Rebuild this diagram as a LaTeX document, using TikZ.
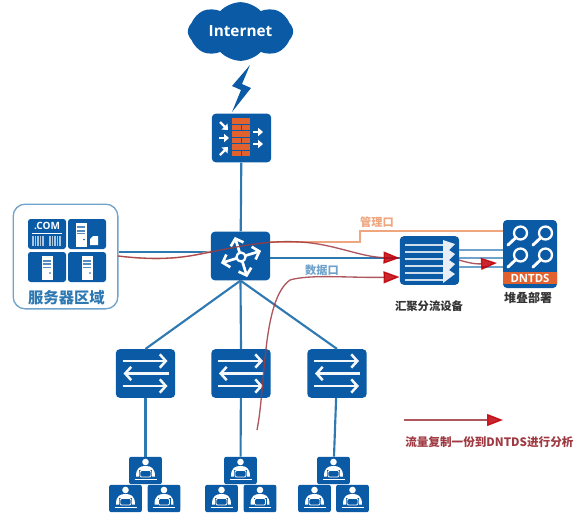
\documentclass[tikz,border=0pt]{standalone}
\usepackage{fontspec}
\setmainfont{Open Sans}
\newfontfamily\cjk{Noto Sans CJK SC}
\usepackage{tikz}
\usetikzlibrary{arrows.meta,positioning,shapes.symbols}

\definecolor{netblue}{HTML}{0B5AA5}
\definecolor{linkblue}{HTML}{2F79B3}
\definecolor{paleblue}{HTML}{6FA3CB}
\definecolor{brick}{HTML}{E2622F}
\definecolor{mgmtorange}{HTML}{EFA67E}
\definecolor{flowred}{HTML}{A03A42}
\definecolor{headred}{HTML}{C00008}

\tikzset{
  devbox/.style={fill=netblue,rounded corners=3pt,minimum width=44.5pt,minimum height=36.5pt,inner sep=0pt},
  tilebox/.style={fill=netblue,rounded corners=2pt,minimum width=28.5pt,minimum height=22.5pt,inner sep=0pt},
  pcbox/.style={fill=netblue,rounded corners=1.5pt,minimum width=24.5pt,minimum height=20.5pt,inner sep=0pt},
  netlink/.style={draw=linkblue,line width=1.6pt},
  palelink/.style={draw=paleblue,line width=1.3pt},
  mgmtlink/.style={draw=mgmtorange,line width=1.4pt},
  flowline/.style={draw=flowred,line width=1pt,opacity=0.85,-{Triangle[length=12pt,width=9pt,color=headred]}},
  whitearrow/.style={draw=white!95!netblue,line width=1.9pt,-{Straight Barb[length=4.5pt,width=10pt,line width=1.9pt]}},
  fatarrow/.style={draw=white,line width=1.7pt,-{Triangle[length=3.6pt,width=6pt]}},
  cjklabel/.style={font=\cjk\bfseries\fontsize{#1}{#1}\selectfont,inner sep=0pt},
  pics/swicon/.style={code={
    \draw[whitearrow] (-23,-12.5) -- (22,-12.5);
    \draw[whitearrow] (23,0) -- (-22,0);
    \draw[whitearrow] (-23,12.5) -- (22,12.5);
  }},
  pics/pcicon/.style={code={
    \fill[white] (0,-8.5) circle (3.3);
    \fill[white] (-9.5,6) .. controls (-9.5,-3) and (-5,-4.5) .. (0,-4.5)
                 .. controls (5,-4.5) and (9.5,-3) .. (9.5,6) -- cycle;
    \fill[netblue] (-6.5,-1) rectangle (6.5,7);
    \draw[white,line width=0.7pt,rounded corners=1pt] (-5.5,0) rectangle (5.5,6.5);
    \draw[white,line width=0.9pt] (-11,9) -- (11,9);
  }},
  pics/srvicon/.style={code={
    \fill[white] (-5.5,-12) rectangle (5.5,12);
    \fill[netblue!70!white] (-3.8,-8.5) rectangle (3.8,-6.5);
    \fill[netblue!70!white] (-3.8,-5) rectangle (3.8,-3);
    \fill[netblue!70!white] (-3.8,-1.5) rectangle (3.8,-0.5);
    \fill[netblue] (3,5) circle (0.8);
  }},
  pics/lensicon/.style={code={
    \draw[white,line width=1.7pt] (2.5,-3) circle (6.5);
    \draw[white,line width=2.2pt,line cap=round] (-2,1.5) -- (-10,9);
  }}
}

\begin{document}
\begin{tikzpicture}[x=0.75pt,y=-0.75pt]
\useasboundingbox (0,0) rectangle (586,529);

% main devices
\node[cloud,cloud puffs=8,cloud puff arc=95,aspect=2.1,fill=netblue,minimum width=79pt,minimum height=44pt,inner sep=0pt,
      text=white,font=\bfseries\fontsize{11.5}{12}\selectfont] (internet) at (240.5,31.5) {Internet};
\node[devbox] (firewall) at (241.5,138) {};
\node[devbox] (router) at (240.5,256) {};
\node[devbox] (aggr) at (429.5,260.5) {};
\node[fill=netblue,rounded corners=3pt,minimum width=40.5pt,minimum height=51pt,inner sep=0pt] (dntds) at (530,254) {};
\node[draw=paleblue,line width=1pt,rounded corners=9pt,minimum width=78.5pt,minimum height=78.5pt,inner sep=0pt] (servers) at (65.5,256.5) {};
\node[devbox] (swleft) at (145.5,373.5) {};
\node[devbox] (swmid) at (241,373.5) {};
\node[devbox] (swright) at (337,373.5) {};

% lightning
\fill[netblue] (250,65) -- (232,86) -- (241,90) -- (232,112) -- (251,88) -- (242,84) -- cycle;

% server tiles
\node[tilebox] (tcom) at (47,234) {};
\node[tilebox] (tsrva) at (87,234) {};
\node[tilebox] (tsrvb) at (47,267) {};
\node[tilebox] (tsrvc) at (87,267) {};
\node[inner sep=0pt,text=white,font=\bfseries\fontsize{7.5}{8}\selectfont] (comtext) at (47,226) {.COM};
\draw[white,line width=0.5pt] (32,233) -- (62,233);
\foreach \xa in {33,35.5,38,40.5,43,50,52.5,55,57.5,60}
  \draw[white!65!netblue,line width=1.1pt] (\xa,236) -- (\xa,246);
\pic at (81,234.5) {srvicon};
\fill[white] (90,239) -- (93,236) -- (98,236) -- (98,245) -- (90,245) -- cycle;
\pic at (47,268) {srvicon};
\pic at (87,268) {srvicon};
\node[cjklabel=11.5,text=linkblue] (srvlabel) at (66.5,298) {服务器区域};

% firewall icon
\foreach \ya in {118,131,144}{
  \fill[brick] (232,\ya) rectangle (250,\ya+5.5);
  \fill[brick] (232,\ya+6.5) rectangle (240.5,\ya+12);
  \fill[brick] (241.5,\ya+6.5) rectangle (250,\ya+12);
}
\draw[fatarrow] (220,122) -- (228,130);
\draw[fatarrow] (219,138) -- (229,138);
\draw[fatarrow] (220,155) -- (228,147);
\draw[fatarrow] (253,132) -- (263,132);
\draw[fatarrow] (253,144) -- (263,144);

% router icon
\foreach \ang in {17,107,197,287}{
  \draw[white,line width=2pt,-{Straight Barb[length=4.5pt,width=10pt,line width=2pt]},rotate around={\ang:(241,257)}]
    (246,257) -- (262,257);
}
\draw[white,line width=1.7pt,fill=netblue] (241,257) circle (4.5);

% aggregation icon
\foreach \ya in {245,252,259,266,273,280}
  \draw[white!80!netblue,line width=1pt] (405,\ya) -- (445,\ya);
\fill[white!90!netblue] (443,240) -- (455,244) -- (449,250) -- (455,254) -- (449,260) -- (455,264)
   -- (449,270) -- (455,274) -- (443,283) -- cycle;

% dntds icon
\fill[brick] (dntds.west |- 0,272) rectangle (dntds.east |- 0,284);
\pic at (518,236) {lensicon};
\pic at (543,236) {lensicon};
\pic at (518,258) {lensicon};
\pic at (543,258) {lensicon};
\node[inner sep=0pt,text=white,font=\bfseries\fontsize{8.5}{9}\selectfont] (dntdstext) at (530,278) {DNTDS};

% switch icons
\pic at (swleft) {swicon};
\pic at (swmid) {swicon};
\pic at (swright) {swicon};

% desktops
\node[pcbox] (pcla) at (145.5,470.5) {};
\node[pcbox] (pclb) at (125.5,498.5) {};
\node[pcbox] (pclc) at (164,498.5) {};
\node[pcbox] (pcma) at (240.5,470.5) {};
\node[pcbox] (pcmb) at (221.5,498.5) {};
\node[pcbox] (pcmc) at (260,498.5) {};
\node[pcbox] (pcra) at (333.5,470.5) {};
\node[pcbox] (pcrb) at (314.5,498.5) {};
\node[pcbox] (pcrc) at (352.5,498.5) {};
\foreach \nd in {pcla,pclb,pclc,pcma,pcmb,pcmc,pcra,pcrb,pcrc}
  \pic at (\nd) {pcicon};

% links
\draw[netlink] (firewall) -- (router);
\draw[netlink] (router.south) -- (swleft.north);
\draw[netlink] (router.south) -- (swmid.north);
\draw[netlink] (router.south) -- (swright.north);
\draw[netlink] (swleft) -- (pcla);
\draw[netlink] (swmid) -- (pcma);
\draw[netlink] (swright) -- (pcra);
\draw[netlink] (servers.east |- 0,252) -- (router.west |- 0,252);
\draw[netlink] (router.east |- 0,258) -- (aggr.west |- 0,258);
\draw[palelink] (aggr.east |- 0,250) -- (dntds.west |- 0,250);
\draw[palelink] (aggr.east |- 0,258) -- (dntds.west |- 0,258);
\draw[palelink] (aggr.east |- 0,267) -- (dntds.west |- 0,267);
\draw[mgmtlink] (router.east |- 0,242) -- (360,242) -- (360,231) -- (dntds.west |- 0,231);

% labels
\node[cjklabel=8.4,text=mgmtorange] (mgmtlabel) at (377,222) {管理口};
\node[cjklabel=8.4,text=paleblue] (datalabel) at (322,270) {数据口};
\node[cjklabel=8.5,text=black!80] (aggrlabel) at (429,306) {汇聚分流设备};
\node[cjklabel=9,text=black!80] (stacklabel) at (528,298) {堆叠部署};

% mirrored traffic
\coordinate (flowa) at (118,256);
\coordinate (flowb) at (257,430);
\coordinate (flowc) at (459,260);
\coordinate (legenda) at (404,420);
\coordinate (legendb) at (503,420);
\draw[mgmtlink,line width=0.8pt] (flowa) .. controls (170,263) and (195,255) .. (router.west |- 0,251);
\draw[flowline] (flowa) .. controls (170,262) and (195,255) .. (211,252)
   .. controls (240,246) and (270,240) .. (300,242)
   .. controls (335,244) and (360,257) .. (aggr.west |- 0,258);
\draw[flowline] (flowb) .. controls (266,385) and (262,300) .. (290,280)
   .. controls (310,274) and (350,278) .. (aggr.west |- 0,277);
\draw[flowline] (flowc) .. controls (472,264) and (478,264) .. (497,263);
\draw[flowline] (legenda) -- (legendb);
\node[cjklabel=8.7,text=flowred,anchor=west] (legendtext) at (405,442) {流量复制一份到DNTDS进行分析};
\end{tikzpicture}
\end{document}
